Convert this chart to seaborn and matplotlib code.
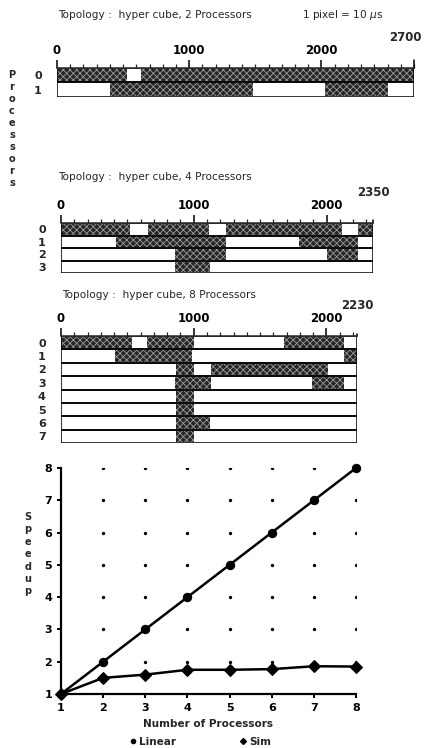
import matplotlib
matplotlib.use('Agg')

import matplotlib.pyplot as plt
import seaborn as sns
import pandas as pd
from matplotlib.ticker import MultipleLocator, FixedLocator
from matplotlib.lines import Line2D

sns.set_theme(style="white")
plt.rcParams['font.family'] = ['DejaVu Sans']
plt.rcParams['hatch.linewidth'] = 0.6

W, H = 431, 748

# busy intervals (start, end) in time units, one list per processor
busy_2 = [[(0, 530), (635, 2700)],
          [(400, 1485), (2030, 2500)]]
busy_4 = [[(0, 520), (655, 1115), (1240, 2120), (2240, 2350)],
          [(413, 1240), (1795, 2240)],
          [(857, 1240), (2000, 2240)],
          [(857, 1120)]]
busy_8 = [[(0, 535), (650, 1000), (1680, 2130)],
          [(410, 990), (2130, 2230)],
          [(870, 1000), (1130, 2015)],
          [(860, 1130), (1890, 2130)],
          [(870, 1000)],
          [(870, 1000)],
          [(870, 1120)],
          [(870, 1000)]]
totals = [2700, 2350, 2230]

# speedup
procs = [1, 2, 3, 4, 5, 6, 7, 8]
linear = [1, 2, 3, 4, 5, 6, 7, 8]
measured = [1.0, 1.5, 1.6, 1.75, 1.75, 1.77, 1.86, 1.85]


def px(x0, y0, x1, y1):
    return [x0 / W, 1 - y1 / H, (x1 - x0) / W, (y1 - y0) / H]


fig = plt.figure(figsize=(W / 100, H / 100), dpi=100)


def gantt(rect, busy, total, title, title_xy, extra=None, tot_dx=0):
    ax = fig.add_axes(px(*rect))
    n = len(busy)
    for i, segs in enumerate(busy):
        ax.broken_barh([(a, b - a) for a, b in segs], (i + 0.06, 0.88),
                       facecolor='#262626', edgecolor='#9c9c9c',
                       hatch='xxxxx', linewidth=0)
        ax.broken_barh([(0, total)], (i, 1), facecolor='none',
                       edgecolor='black', linewidth=1.1)
    ax.set_xlim(0, total)
    ax.set_ylim(n, 0)
    for s in ['left', 'right', 'bottom']:
        ax.spines[s].set_visible(False)
    ax.spines['top'].set_linewidth(1.1)
    ax.xaxis.set_ticks_position('top')
    ax.xaxis.set_major_locator(FixedLocator([0, 1000, 2000]))
    ax.xaxis.set_minor_locator(MultipleLocator(100))
    ax.tick_params(axis='x', which='major', length=6, width=1.1,
                   direction='out', labelsize=8.5, pad=2, colors='black')
    ax.tick_params(axis='x', which='minor', length=3, width=0.9,
                   direction='out', top=True)
    for t in ax.get_xticklabels():
        t.set_fontweight('bold')
    ax.set_yticks([i + 0.5 for i in range(n)])
    ax.set_yticklabels([str(i) for i in range(n)], fontsize=8,
                       fontweight='bold')
    ax.tick_params(axis='y', length=0, pad=11)
    ax.annotate(str(total), xy=(total, 0), xycoords='data',
                xytext=(tot_dx, 17), textcoords='offset points',
                ha='center', va='bottom', fontsize=8.5, fontweight='bold',
                annotation_clip=False)
    ax.plot([total, total], [0, -0.55 / n * 2], color='black',
            lw=1.1, clip_on=False)
    fig.text(title_xy[0] / W, 1 - title_xy[1] / H, title, fontsize=7.6,
             va='center', ha='left')
    if extra:
        fig.text(extra[1] / W, 1 - extra[2] / H, extra[0], fontsize=7.6,
                 va='center', ha='left')
    return ax


gantt((57, 68, 414, 97), busy_2, totals[0],
      'Topology :  hyper cube, 2 Processors', (58, 15),
      extra=('1 pixel = 10 $\\mu$s', 302, 15), tot_dx=-6)
gantt((61, 223, 373, 273), busy_4, totals[1],
      'Topology :  hyper cube, 4 Processors', (58, 177))
gantt((61, 336, 357, 443), busy_8, totals[2],
      'Topology :  hyper cube, 8 Processors', (62, 295))

fig.text(12 / W, 1 - 70 / H, '\n'.join('Processors'), fontsize=7,
         fontweight='bold', va='top', ha='center', linespacing=1.25)

# speedup plot
ax = fig.add_axes(px(61, 468, 356, 694))
df = pd.DataFrame({'Processors': procs * 2,
                   'Speedup': linear + measured,
                   'Series': ['Linear'] * 8 + ['Sim'] * 8})
sns.lineplot(data=df, x='Processors', y='Speedup', hue='Series',
             style='Series', markers={'Linear': 'o', 'Sim': 'D'},
             dashes=False, palette=['black', 'black'], linewidth=1.8,
             markersize=6, markeredgecolor='black', legend=False, ax=ax,
             clip_on=False)
gx = [x for x in procs[1:] for y in linear[1:]]
gy = [y for x in procs[1:] for y in linear[1:]]
ax.scatter(gx, gy, s=2, color='black', zorder=0)
ax.set_xlim(1, 8)
ax.set_ylim(1, 8)
ax.set_xticks(procs)
ax.set_yticks(linear)
for s in ['top', 'right']:
    ax.spines[s].set_visible(False)
for s in ['left', 'bottom']:
    ax.spines[s].set_linewidth(1.6)
    ax.spines[s].set_color('black')
ax.tick_params(axis='both', length=3, width=1.4, direction='out',
               labelsize=8, colors='black', left=True, bottom=True)
for t in ax.get_xticklabels() + ax.get_yticklabels():
    t.set_fontweight('bold')
ax.set_xlabel('Number of Processors', fontsize=7.5, fontweight='bold',
              labelpad=4)
ax.set_ylabel('')
fig.text(28 / W, 1 - 512 / H, '\n'.join('Speedup'), fontsize=7,
         fontweight='bold', va='top', ha='center', linespacing=1.3)

handles = [Line2D([], [], marker='o', color='black', ls='none', ms=3),
           Line2D([], [], marker='D', color='black', ls='none', ms=3)]
fig.legend(handles, ['Linear', 'Sim'], loc='center',
           bbox_to_anchor=(200 / W, 1 - 742 / H), ncol=2, frameon=False,
           handletextpad=0.2, columnspacing=6,
           handlelength=0.8, prop={'weight': 'bold', 'size': 7.5})

fig.savefig('out.png', dpi=100)
